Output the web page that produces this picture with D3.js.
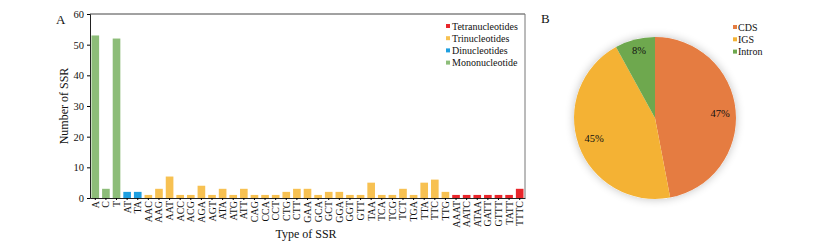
<!DOCTYPE html>
<html><head><meta charset="utf-8">
<script src="https://cdn.jsdelivr.net/npm/d3@7"></script>
<style>body{margin:0;background:#fff}svg{display:block}text{font-family:"Liberation Serif","Times New Roman",serif;fill:#111}</style>
</head><body><svg id="c" width="817" height="247"></svg>
<script>
const categories = ["A","C","T","AT","TA","AAC","AAG","AAT","ACC","ACG","AGA","AGT","ATA","ATG","ATT","CAG","CCA","CCT","CTG","CTT","GAA","GCA","GCT","GGA","GGT","GTT","TAA","TCA","TCG","TCT","TGA","TTA","TTC","TTG","AAAT","AATC","ATAA","GATT","GTTT","TATT","TTTC"];
const counts = [53,3,52,2,2,1,3,7,1,1,4,1,3,1,3,1,1,1,2,3,3,1,2,2,1,1,5,1,1,3,1,5,6,2,1,1,1,1,1,1,3];
const groups = ["Mono","Mono","Mono","Di","Di","Tri","Tri","Tri","Tri","Tri","Tri","Tri","Tri","Tri","Tri","Tri","Tri","Tri","Tri","Tri","Tri","Tri","Tri","Tri","Tri","Tri","Tri","Tri","Tri","Tri","Tri","Tri","Tri","Tri","Tetra","Tetra","Tetra","Tetra","Tetra","Tetra","Tetra"];
const groupKeys = ["Tetra","Tri","Di","Mono"];
const groupNames = ["Tetranucleotides","Trinucleotides","Dinucleotides","Mononucleotide"];
const groupColors = ["#e8262b","#f7c152","#1e9fe0","#8dbd79"];
const yTicks = [0,10,20,30,40,50,60];
const pieLabels = ["CDS","IGS","Intron"];
const pieValues = [47,45,8];
const pieColors = ["#e57c41","#f4b234","#6ea84e"];

const svg = d3.select("#c");
const L=90,R=525,T=14,B=198;
const x = d3.scaleBand().domain(categories).range([L,R]).paddingInner(0.28).paddingOuter(0.14);
const y = d3.scaleLinear().domain([0,60]).range([B,T]);
const col = d3.scaleOrdinal().domain(groupKeys).range(groupColors);

svg.append("line").attr("x1",L).attr("x2",R).attr("y1",T).attr("y2",T).attr("stroke","#444").attr("stroke-width",1);
svg.append("line").attr("x1",R).attr("x2",R).attr("y1",T).attr("y2",B).attr("stroke","#777").attr("stroke-width",1);

svg.append("g").selectAll("rect").data(categories).join("rect")
  .attr("x",d=>x(d)).attr("width",x.bandwidth())
  .attr("y",(d,i)=>y(counts[i])).attr("height",(d,i)=>B-y(counts[i]))
  .attr("fill",(d,i)=>col(groups[i]));

const ya = svg.append("g").attr("transform",`translate(${L},0)`).call(d3.axisLeft(y).tickValues(yTicks).tickSize(3).tickPadding(3));
ya.select(".domain").attr("stroke","#222");
ya.selectAll("text").attr("font-size",10.5);
const xa = svg.append("g").attr("transform",`translate(0,${B})`).call(d3.axisBottom(x).tickSize(2).tickSizeOuter(0));
xa.select(".domain").attr("stroke","#222");
xa.selectAll("text").attr("font-size",10)
  .attr("transform","rotate(-90)").attr("text-anchor","end").attr("x",-3).attr("y",0).attr("dy","0.35em");

svg.append("text").attr("transform","translate(68,106) rotate(-90)").attr("text-anchor","middle").attr("font-size",12).text("Number of SSR");
svg.append("text").attr("x",306).attr("y",238).attr("text-anchor","middle").attr("font-size",12).text("Type of SSR");
svg.append("text").attr("x",56).attr("y",24).attr("font-size",13).text("A");

const lg = svg.append("g");
groupNames.forEach((n,i)=>{
  lg.append("rect").attr("x",446).attr("y",24+i*12.2).attr("width",4).attr("height",4).attr("fill",groupColors[i]);
  lg.append("text").attr("x",452).attr("y",26+i*12.2).attr("dy","0.35em").attr("font-size",10).text(n);
});

const cx=655, cy=118, r=81;
const defs = svg.append("defs");
const f = defs.append("filter").attr("id","sh").attr("x","-30%").attr("y","-30%").attr("width","160%").attr("height","160%");
f.append("feGaussianBlur").attr("in","SourceAlpha").attr("stdDeviation",5);
f.append("feComponentTransfer").append("feFuncA").attr("type","linear").attr("slope",0.25);
const fm = f.append("feMerge"); fm.append("feMergeNode"); fm.append("feMergeNode").attr("in","SourceGraphic");
const pg = svg.append("g").attr("transform",`translate(${cx},${cy})`);
const arcs = d3.pie().sort(null).value(d=>d)(pieValues);
const arc = d3.arc().innerRadius(0).outerRadius(r);
pg.append("circle").attr("r",r).attr("fill","#fff").attr("filter","url(#sh)");
pg.selectAll("path").data(arcs).join("path").attr("d",arc).attr("fill",(d,i)=>pieColors[i]);
const labPos = [[65,-5],[-61,20],[-16,-68]];
pg.selectAll("text.pl").data(arcs).join("text").attr("class","pl")
  .attr("x",(d,i)=>labPos[i][0]).attr("y",(d,i)=>labPos[i][1]).attr("text-anchor","middle").attr("dy","0.35em")
  .attr("font-size",10.5).text((d,i)=>pieValues[i]+"%");
svg.append("text").attr("x",541).attr("y",23).attr("font-size",13).text("B");
pieLabels.forEach((n,i)=>{
  svg.append("rect").attr("x",733).attr("y",25+i*12.3).attr("width",4).attr("height",4).attr("fill",pieColors[i]);
  svg.append("text").attr("x",738).attr("y",27+i*12.3).attr("dy","0.35em").attr("font-size",10).text(n);
});
</script></body></html>
